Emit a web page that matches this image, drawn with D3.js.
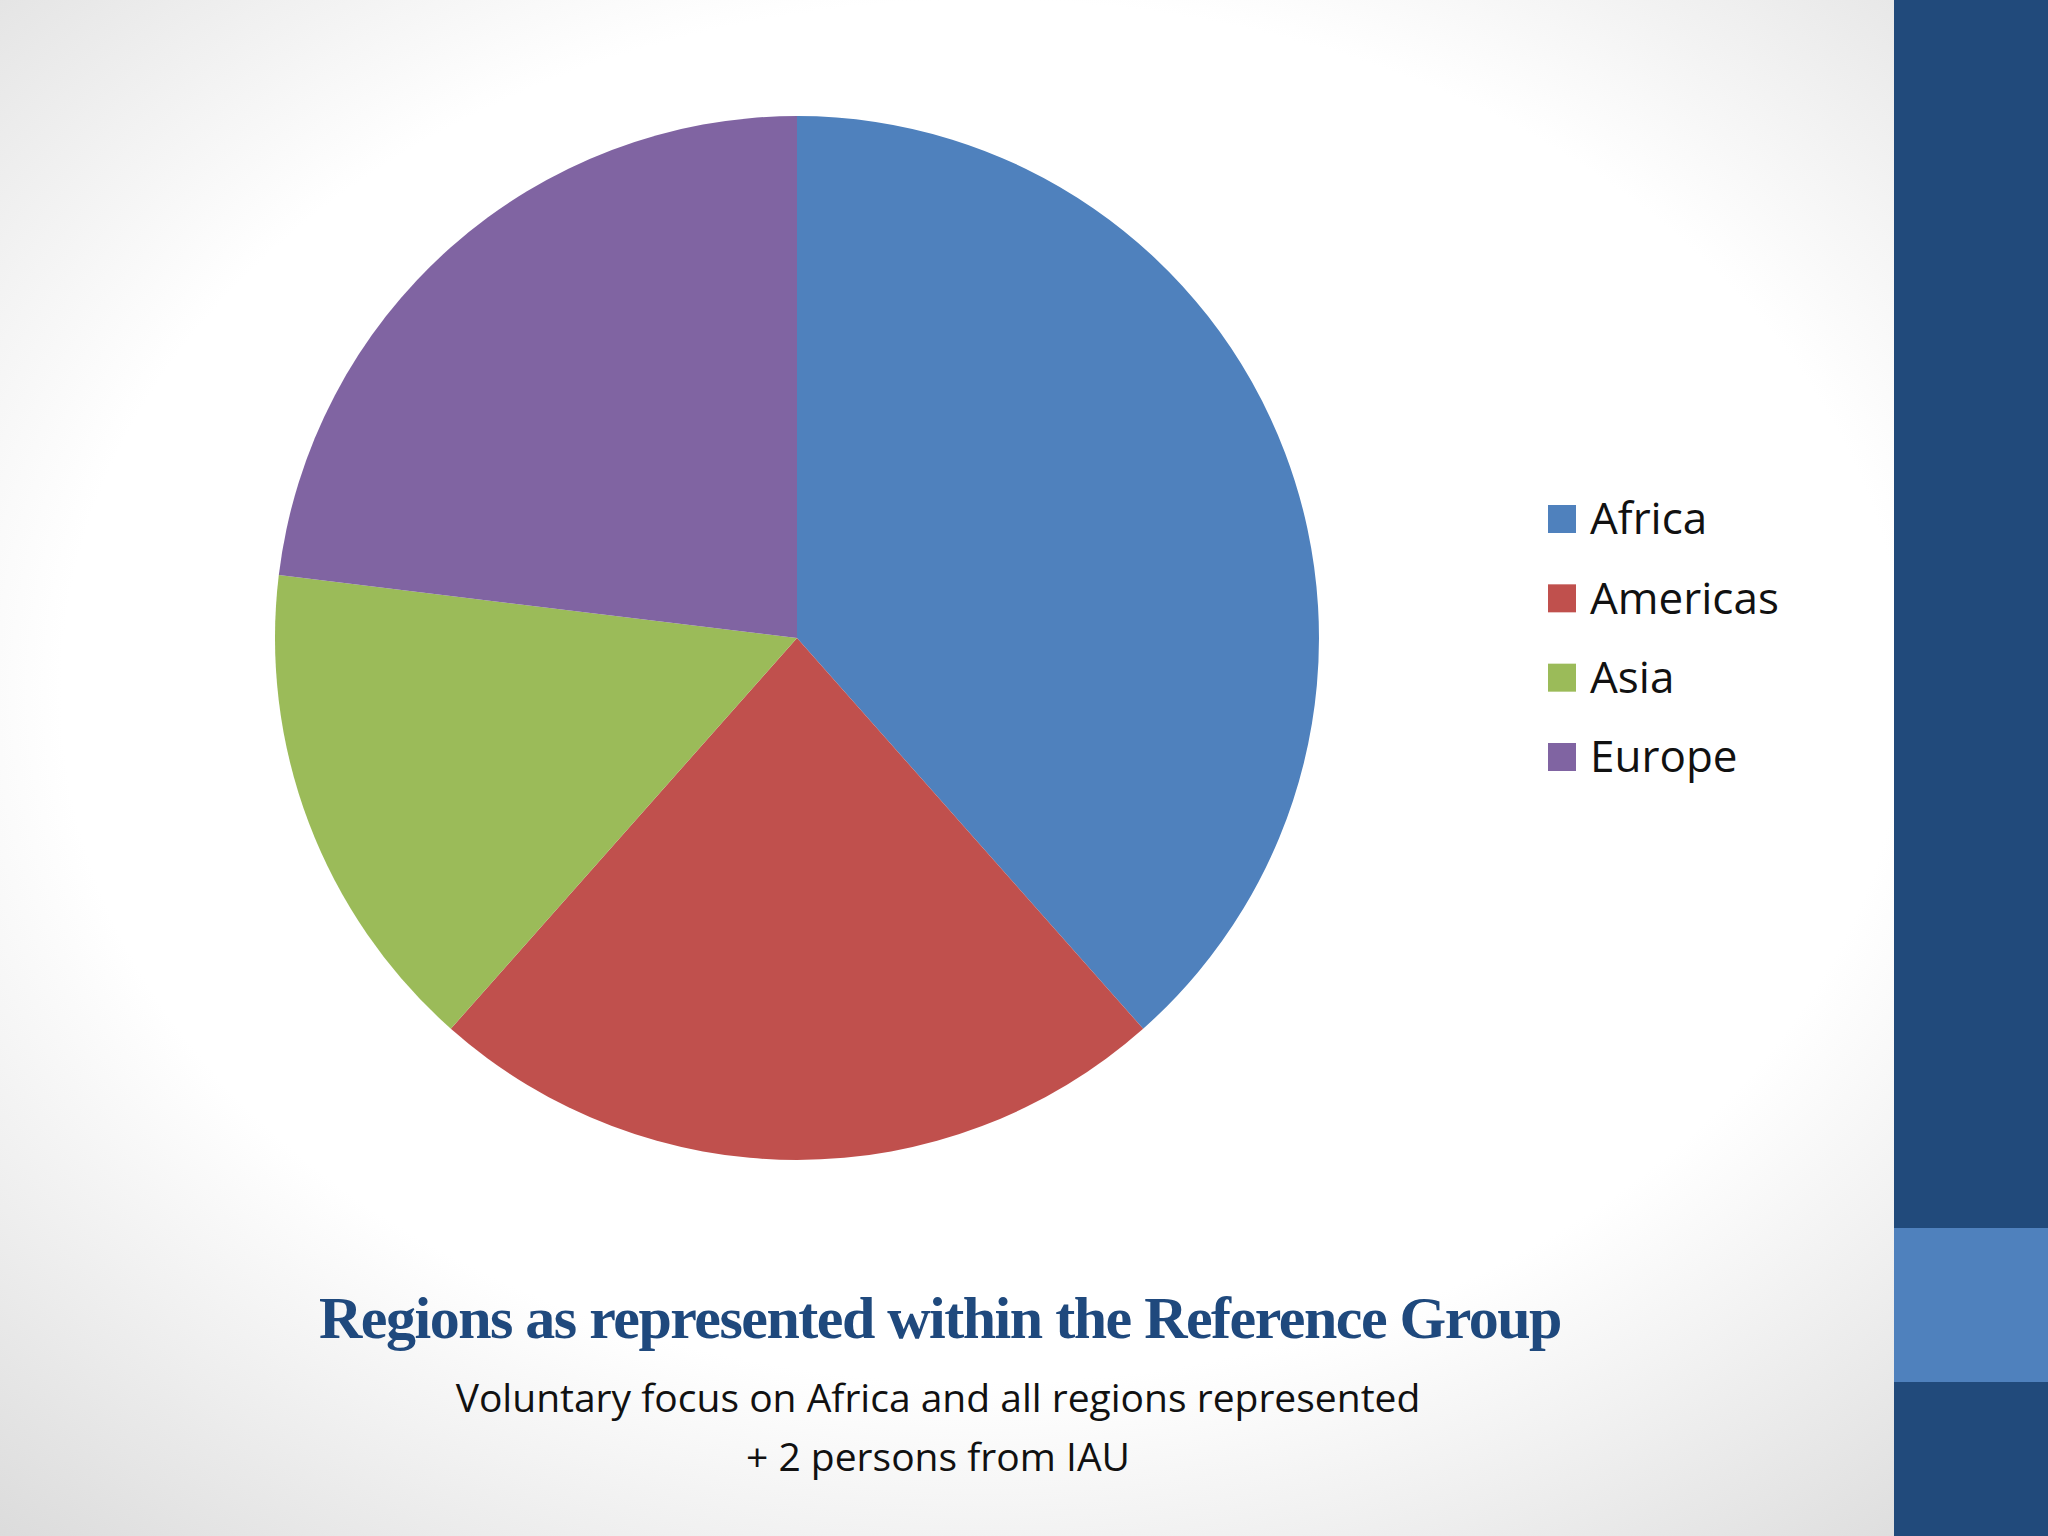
<!DOCTYPE html>
<html>
<head>
<meta charset="utf-8">
<script src="https://cdn.jsdelivr.net/npm/d3@7"></script>
<style>
  body { margin: 0; background: #fff; }
</style>
</head>
<body>
<div id="chart"></div>
<script>
const regions = ["Africa", "Americas", "Asia", "Europe"];
const counts = [10, 6, 4, 6];
const colours = ["#4F81BD", "#C0504D", "#9BBB59", "#8064A2"];
const title = "Regions as represented within the Reference Group";
const subtitle = ["Voluntary focus on Africa and all regions represented", "+ 2 persons from IAU"];

const W = 2048, H = 1536;
const svg = d3.select("#chart").append("svg").attr("width", W).attr("height", H);

// slide background with soft grey vignette
const grad = svg.append("defs").append("radialGradient")
  .attr("id", "bg").attr("cx", "48%").attr("cy", "45%").attr("r", "75%");
grad.append("stop").attr("offset", "0.6").attr("stop-color", "#ffffff");
grad.append("stop").attr("offset", "1").attr("stop-color", "#d9d9d9");
svg.append("rect").attr("width", W).attr("height", H).attr("fill", "url(#bg)");

// right sidebar
svg.append("rect").attr("x", 1894).attr("y", 0).attr("width", W - 1894).attr("height", H).attr("fill", "#214A7B");
svg.append("rect").attr("x", 1894).attr("y", 1228).attr("width", W - 1894).attr("height", 154).attr("fill", "#4F81BD");

const data = regions.map((r, i) => ({ region: r, value: counts[i] }));
const colour = d3.scaleOrdinal().domain(regions).range(colours);
const pie = d3.pie().sort(null).value(d => d.value);
const arc = d3.arc().innerRadius(0).outerRadius(522);

const g = svg.append("g").attr("transform", "translate(797,638)");
g.selectAll("path")
  .data(pie(data))
  .enter()
  .append("path")
  .attr("d", arc)
  .attr("fill", d => colour(d.data.region));

// legend
const y = d3.scalePoint().domain(regions).range([519, 757]);
const leg = svg.append("g");
leg.selectAll("rect")
  .data(regions)
  .enter()
  .append("rect")
  .attr("x", 1548)
  .attr("y", d => y(d) - 14)
  .attr("width", 28)
  .attr("height", 28)
  .attr("fill", d => colour(d));
leg.selectAll("text")
  .data(regions)
  .enter()
  .append("text")
  .attr("x", 1590)
  .attr("y", d => y(d))
  .attr("dy", "0.35em")
  .attr("font-family", "Open Sans, sans-serif")
  .attr("font-size", 44)
  .attr("fill", "#111")
  .text(d => d);

svg.append("text")
  .attr("x", 940).attr("y", 1338)
  .attr("text-anchor", "middle")
  .attr("font-family", "Liberation Serif, serif")
  .attr("font-weight", "bold")
  .attr("font-size", 60)
  .attr("letter-spacing", "-1.5")
  .attr("fill", "#1F497D")
  .text(title);

svg.selectAll(".sub")
  .data(subtitle)
  .enter()
  .append("text")
  .attr("x", 938)
  .attr("y", (d, i) => 1412 + i * 59)
  .attr("text-anchor", "middle")
  .attr("font-family", "Open Sans, sans-serif")
  .attr("font-size", 39)
  .attr("fill", "#111")
  .text(d => d);
</script>
</body>
</html>
